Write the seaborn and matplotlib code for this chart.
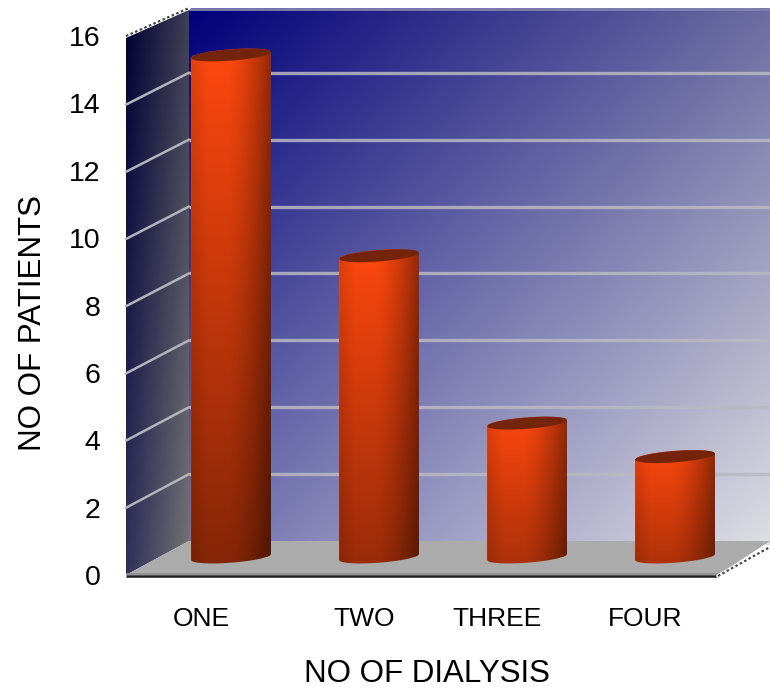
import numpy as np
import matplotlib
matplotlib.use("Agg")
import matplotlib.pyplot as plt
from matplotlib.patches import Polygon
import seaborn as sns

categories = ["ONE", "TWO", "THREE", "FOUR"]
patients = [15, 9, 4, 3]
y_ticks = [0, 2, 4, 6, 8, 10, 12, 14, 16]
grid_levels = [2, 4, 6, 8, 10, 12, 14]
label_centres = [201, 364, 497, 645]

W, H = 770, 692
sns.set_theme(style="white")
plt.rcParams["font.family"] = ["Liberation Sans", "DejaVu Sans"]

fig = plt.figure(figsize=(W / 100, H / 100), dpi=100, facecolor="white")


def axes_from_pixels(left, right, top, bottom, **kw):
    return fig.add_axes([left / W, 1 - bottom / H, (right - left) / W, (bottom - top) / H], **kw)


def bilinear(tl, tr, bl, br, n=200):
    u, v = np.meshgrid(np.linspace(0, 1, n), np.linspace(0, 1, n))
    u, v = u[..., None], v[..., None]
    tl, tr, bl, br = (np.array(c, float) / 255 for c in (tl, tr, bl, br))
    return (1 - v) * ((1 - u) * tl + u * tr) + v * ((1 - u) * bl + u * br)


# Room: back wall, side wall and floor, in pixel coordinates
room = axes_from_pixels(0, W, 0, H, zorder=0)
room.set_xlim(0, W)
room.set_ylim(H, 0)
room.axis("off")

room.imshow(bilinear((0, 0, 122), (108, 108, 162), (112, 112, 174), (222, 222, 228)),
            extent=(189, 770, 545, 8), aspect="auto", zorder=1)
side = room.imshow(bilinear((0, 0, 50), (62, 62, 85), (48, 48, 92), (116, 116, 116)),
                   extent=(126, 189, 575, 8), aspect="auto", zorder=1)
side_shape = Polygon([(126, 36), (189, 8), (189, 541), (126, 575)], transform=room.transData,
                     fc="none", ec="none")
room.add_patch(side_shape)
side.set_clip_path(side_shape)

room.plot([189, 770], [8.5, 8.5], color="#8080b0", lw=2, zorder=2)
for level in grid_levels:
    back_y = 541 - 33.45 * level
    front_y = 575 - 33.6 * level
    room.plot([189, 770], [back_y, back_y], color="#b9b9c2", lw=2.4, alpha=0.85, zorder=2,
              solid_capstyle="butt")
    room.plot([126, 189], [front_y, back_y], color="#b4b4bc", lw=1.8, zorder=2)

room.add_patch(Polygon([(126, 575), (189, 541), (770, 541), (718, 575)], fc="#ababab", ec="none", zorder=3))
room.plot([126, 718], [576, 576], color="#1c1c1c", lw=1.8, zorder=4, solid_capstyle="butt")
room.plot([126, 718], [573.5, 573.5], color="#8c8c8c", lw=1.2, zorder=3, solid_capstyle="butt")
for xs, ys in (([126, 189], [36, 8]), ([718, 770], [576, 547])):
    room.plot(xs, ys, color="white", lw=2.6, zorder=4)
    room.plot(xs, ys, color="#404040", lw=1.5, ls=(0, (1.2, 1.2)), zorder=5)
room.set_xlim(0, W)
room.set_ylim(H, 0)

# Cylinders, laid out by seaborn on the plane halfway through the room
UNIT = 33.47
bars = axes_from_pixels(157, 749, 557 - 16 * UNIT, 557 + UNIT, zorder=1)
bars.patch.set_alpha(0)
sns.barplot(x=categories, y=patients, color="#c83c0a", saturation=1, width=0.54, ax=bars)
bars.set_xlim(-0.5, 3.5)
bars.set_ylim(-1, 16)
bars.axis("off")

CAP_H = 0.17
TILT = 0.09
u = np.linspace(-1, 1, 80)
arc = np.sqrt(1 - u ** 2)

for patch, value in zip(bars.patches, patients):
    x0, w = patch.get_x(), patch.get_width()
    xs = x0 + (u + 1) / 2 * w
    lower = 0 - CAP_H * arc + TILT * u
    upper = value + CAP_H * arc + TILT * u
    cap_lower = value - CAP_H * arc + TILT * u
    outline = Polygon(np.r_[np.c_[xs, lower], np.c_[xs[::-1], upper[::-1]]],
                      transform=bars.transData, fc="none", ec="none")
    bars.add_patch(outline)
    patch.set_clip_path(outline)
    patch.set_zorder(2)

    # Shading: lit from upper left, falling away to the right and downward
    gx, gy = np.meshgrid(np.linspace(0, 1, 120), np.linspace(0, 1, 240))
    side_shade = 0.88 + 0.12 * np.clip(gx / 0.2, 0, 1) - 0.42 * np.clip((gx - 0.45) / 0.55, 0, 1) ** 1.5
    fall = 0.52 + 0.2 * (1 - value / 15)
    down = 1 - (1 - fall) * gy
    shade = (side_shade * down)[..., None]
    body = np.clip(shade * np.array([255, 72, 14]) / 255, 0, 1)
    image = bars.imshow(body, extent=(x0, x0 + w, -0.3, value + 0.35), aspect="auto", zorder=3)
    image.set_clip_path(outline)

    bars.add_patch(Polygon(np.r_[np.c_[xs, cap_lower], np.c_[xs[::-1], upper[::-1]]],
                           fc="#74240a", ec="none", zorder=4))
bars.set_xlim(-0.5, 3.5)
bars.set_ylim(-1, 16)

# Front plane carrying the visible axes
front = axes_from_pixels(126, 718, 36, 575, zorder=2)
front.patch.set_alpha(0)
front.set_xlim(126, 718)
front.set_ylim(0, 16)
sns.despine(ax=front, left=True, bottom=True, right=True, top=True)
front.set_yticks(y_ticks)
front.set_xticks(label_centres, categories)
front.tick_params(axis="both", length=0, colors="black")
front.tick_params(axis="x", pad=23, labelsize=19)
front.tick_params(axis="y", pad=18.5, labelsize=20.5)
front.set_xlabel("NO OF DIALYSIS", fontsize=22.5, color="black", va="center")
front.set_ylabel("NO OF PATIENTS", fontsize=22.5, color="black", va="center")
front.xaxis.set_label_coords((427 - 126) / 592, (575 - 674) / 539)
front.yaxis.set_label_coords((33 - 126) / 592, (575 - 323) / 539)

fig.savefig("out.png", dpi=100)
